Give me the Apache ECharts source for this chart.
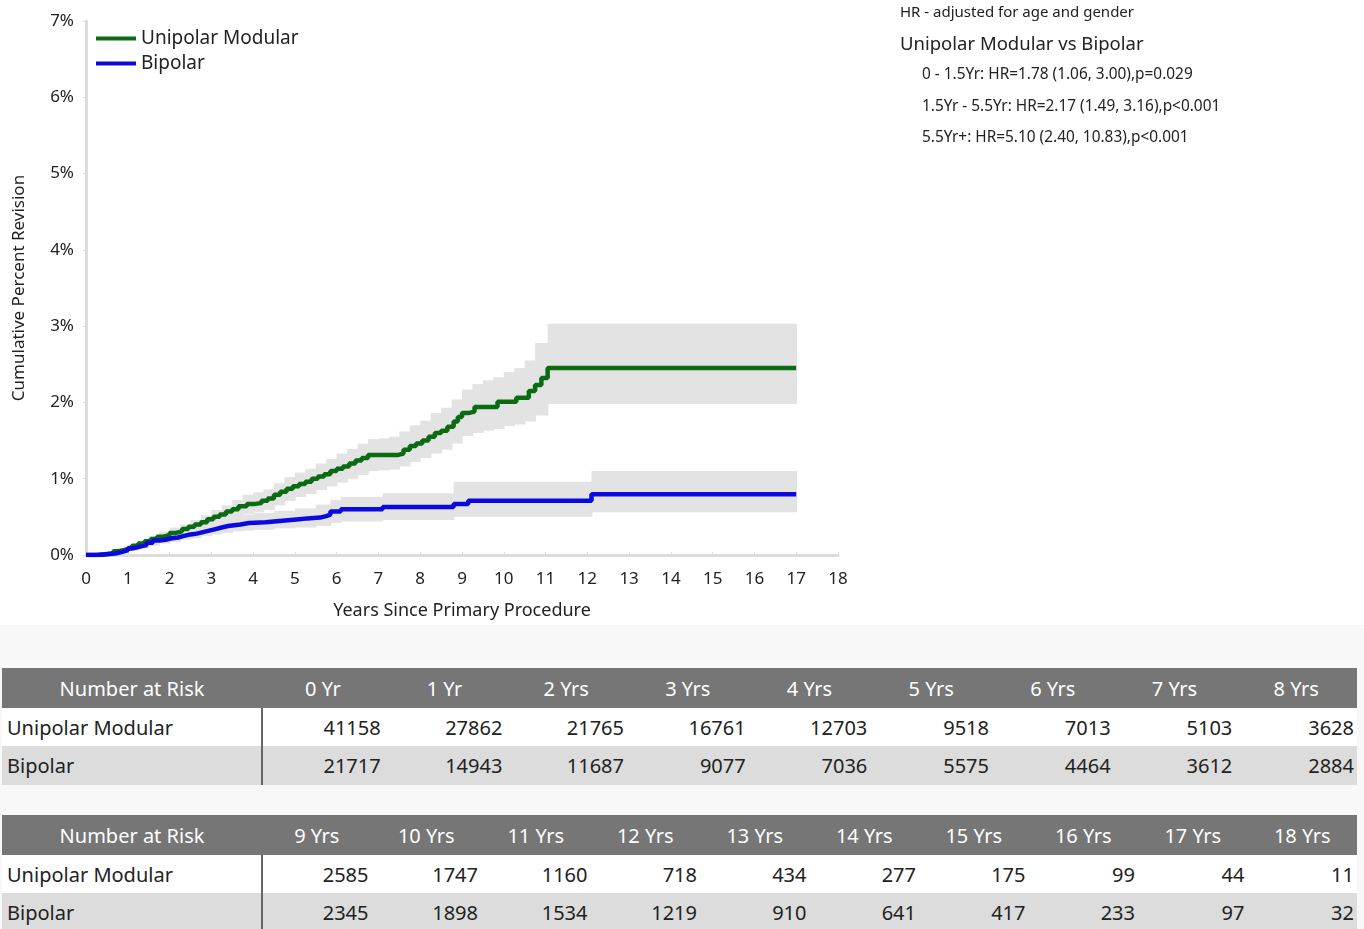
<!DOCTYPE html>
<html lang="en">
<head>
  <meta charset="utf-8">
  <style>
    body { margin: 0; width: 1364px; height: 929px; background: #fff; overflow: hidden; position: relative;
           font-family: 'Noto Sans', 'Open Sans', sans-serif; }
    #container { position: absolute; left: 0; top: 0; width: 1364px; height: 625px; }
    #tables { position: absolute; left: 0; top: 625px; width: 1364px; height: 304px; background: #f8f8f8; }
    table.risk { position: absolute; left: 2px; width: 1355px; border-collapse: collapse; table-layout: fixed;
                 font-size: 20px; color: #222; }
    table.risk th { background: #767676; color: #fff; font-weight: normal; height: 40px; padding: 0; text-align: center; }
    table.risk td { height: 38px; padding: 0 3px 0 0; text-align: right; white-space: nowrap; }
    table.risk td.name { text-align: left; padding-left: 5px; border-right: 2px solid #666; }
    table.risk tr.r1 td { background: #fff; }
    table.risk tr.r2 td { background: #dcdcdc; height: 39px; }
  </style>
</head>
<body>
  <div id="container"></div>
  <div id="tables"></div>

  <script type="text/javascript" src="https://cdn.jsdelivr.net/npm/echarts@6/dist/echarts.min.js"></script>
  <script type="text/javascript">
    // cumulative percent revision (step curves: value holds until the next time)
    var umTime = [0, 0.25, 0.45, 0.65, 0.8, 0.95, 1.1, 1.25, 1.4, 1.55, 1.7, 1.85, 2.0, 2.15, 2.3, 2.45, 2.6, 2.75, 2.9,
                  3.05, 3.2, 3.35, 3.5, 3.65, 3.85, 4.05, 4.2, 4.35, 4.5, 4.65, 4.8, 4.95, 5.1, 5.25, 5.4, 5.55, 5.7,
                  5.85, 6.0, 6.15, 6.3, 6.45, 6.6, 6.75, 7.45, 7.6, 7.75, 7.9, 8.05, 8.2, 8.35, 8.5, 8.65, 8.8, 8.9,
                  9.0, 9.15, 9.3, 9.85, 10.3, 10.6, 10.75, 10.9, 11.05, 17];
    var umValue = [0, 0.01, 0.02, 0.05, 0.07, 0.09, 0.12, 0.15, 0.18, 0.21, 0.24, 0.26, 0.29, 0.31, 0.34, 0.37, 0.4, 0.43, 0.47,
                   0.5, 0.53, 0.57, 0.6, 0.64, 0.67, 0.68, 0.71, 0.74, 0.79, 0.83, 0.87, 0.9, 0.93, 0.96, 1.0, 1.03, 1.06,
                   1.1, 1.13, 1.16, 1.2, 1.24, 1.27, 1.31, 1.33, 1.38, 1.43, 1.46, 1.5, 1.55, 1.6, 1.63, 1.68, 1.75, 1.81,
                   1.86, 1.88, 1.94, 2.01, 2.06, 2.15, 2.23, 2.32, 2.45, 2.45];

    var umBandTime = [0, 0.25, 0.5, 0.75, 1, 1.25, 1.5, 1.75, 2, 2.25, 2.5, 2.75, 3, 3.25, 3.5, 3.75, 4, 4.25, 4.5, 4.75,
                      5, 5.25, 5.5, 5.75, 6, 6.25, 6.5, 6.75, 7, 7.25, 7.5, 7.75, 8, 8.25, 8.5, 8.75, 9, 9.25, 9.5, 9.75,
                      10, 10.25, 10.5, 10.75, 11.05, 17];
    var umLower = [0, 0, 0.02, 0.04, 0.07, 0.11, 0.15, 0.19, 0.23, 0.27, 0.31, 0.35, 0.4, 0.44, 0.49, 0.54, 0.56, 0.59, 0.65, 0.71,
                   0.76, 0.8, 0.85, 0.9, 0.95, 1.0, 1.05, 1.1, 1.11, 1.12, 1.16, 1.22, 1.27, 1.33, 1.38, 1.46, 1.56, 1.6, 1.63, 1.65,
                   1.69, 1.71, 1.75, 1.83, 1.98, 1.98];
    var umUpper = [0, 0.03, 0.05, 0.09, 0.13, 0.19, 0.25, 0.31, 0.36, 0.4, 0.46, 0.52, 0.59, 0.65, 0.72, 0.79, 0.82, 0.86, 0.94, 1.02,
                   1.08, 1.13, 1.2, 1.26, 1.33, 1.39, 1.46, 1.52, 1.53, 1.55, 1.62, 1.7, 1.76, 1.86, 1.93, 2.04, 2.17, 2.24, 2.29, 2.33,
                   2.4, 2.45, 2.55, 2.78, 3.03, 3.03];

    var biTime = [0, 0.3, 0.5, 0.7, 0.85, 1.0, 1.15, 1.3, 1.45, 1.6, 1.75, 1.9, 2.05, 2.2, 2.35, 2.5, 2.65, 2.8, 2.95,
                  3.1, 3.25, 3.4, 3.55, 3.7, 3.9, 4.3, 4.5, 4.7, 4.9, 5.1, 5.3, 5.6, 5.75, 5.85, 6.1, 7.1, 8.8, 9.15, 12.1, 17];
    var biValue = [0, 0.01, 0.02, 0.04, 0.06, 0.09, 0.11, 0.13, 0.16, 0.19, 0.2, 0.22, 0.23, 0.25, 0.27, 0.28, 0.3, 0.32, 0.34,
                   0.36, 0.38, 0.39, 0.4, 0.42, 0.43, 0.44, 0.45, 0.46, 0.47, 0.48, 0.49, 0.51, 0.53, 0.57, 0.6, 0.63, 0.67, 0.71, 0.795, 0.795];

    var biBandTime = [0, 0.25, 0.5, 0.75, 1, 1.25, 1.5, 1.75, 2, 2.25, 2.5, 2.75, 3, 3.25, 3.5, 3.75, 4, 4.5, 5, 5.5,
                      5.85, 6.1, 7.1, 8.8, 12.1, 17];
    var biLower = [0, 0, 0.02, 0.04, 0.06, 0.09, 0.12, 0.15, 0.17, 0.2, 0.22, 0.25, 0.27, 0.29, 0.31, 0.32, 0.33, 0.35, 0.36, 0.38,
                   0.42, 0.44, 0.46, 0.5, 0.56, 0.56];
    var biUpper = [0, 0.03, 0.05, 0.09, 0.14, 0.18, 0.23, 0.27, 0.3, 0.34, 0.37, 0.41, 0.44, 0.47, 0.5, 0.53, 0.55, 0.58, 0.61, 0.66,
                   0.72, 0.76, 0.81, 0.96, 1.1, 1.1];

    var seriesNames = ['Unipolar Modular', 'Bipolar'];
    var notes = ['HR - adjusted for age and gender', 'Unipolar Modular vs Bipolar',
                 '0 - 1.5Yr: HR=1.78 (1.06, 3.00),p=0.029',
                 '1.5Yr - 5.5Yr: HR=2.17 (1.49, 3.16),p<0.001',
                 '5.5Yr+: HR=5.10 (2.40, 10.83),p<0.001'];

    // number at risk tables
    var riskYears1 = ['0 Yr', '1 Yr', '2 Yrs', '3 Yrs', '4 Yrs', '5 Yrs', '6 Yrs', '7 Yrs', '8 Yrs'];
    var riskUm1 = [41158, 27862, 21765, 16761, 12703, 9518, 7013, 5103, 3628];
    var riskBi1 = [21717, 14943, 11687, 9077, 7036, 5575, 4464, 3612, 2884];
    var riskYears2 = ['9 Yrs', '10 Yrs', '11 Yrs', '12 Yrs', '13 Yrs', '14 Yrs', '15 Yrs', '16 Yrs', '17 Yrs', '18 Yrs'];
    var riskUm2 = [2585, 1747, 1160, 718, 434, 277, 175, 99, 44, 11];
    var riskBi2 = [2345, 1898, 1534, 1219, 910, 641, 417, 233, 97, 32];

    function pairs(t, v) {
      return t.map(function (x, i) { return [x, v[i]]; });
    }

    // confidence band drawn as one rect per step
    function bandSeries(t, lo, hi) {
      var data = [];
      for (var i = 0; i < t.length - 1; i++) {
        data.push([t[i], t[i + 1], lo[i], hi[i]]);
      }
      return {
        type: 'custom',
        silent: true,
        z: 1,
        encode: { x: [0, 1], y: [2, 3] },
        renderItem: function (params, api) {
          var a = api.coord([api.value(0), api.value(3)]);
          var b = api.coord([api.value(1), api.value(2)]);
          return {
            type: 'rect',
            shape: { x: a[0], y: a[1], width: b[0] - a[0] + 0.8, height: b[1] - a[1] },
            style: { fill: '#e3e3e3' }
          };
        },
        data: data
      };
    }

    var dom = document.getElementById('container');
    var myChart = echarts.init(dom, null, { renderer: 'canvas' });
    var font = "'Noto Sans', 'Open Sans', sans-serif";

    var graphics = [
      { type: 'text', left: 900, top: 5, style: { text: notes[0], font: '15px ' + font, fill: '#222' } },
      { type: 'text', left: 900, top: 35, style: { text: notes[1], font: '18.5px ' + font, fill: '#222' } },
      { type: 'text', left: 922, top: 67, style: { text: notes[2], font: '15.4px ' + font, fill: '#222' } },
      { type: 'text', left: 922, top: 99, style: { text: notes[3], font: '15.4px ' + font, fill: '#222' } },
      { type: 'text', left: 922, top: 130, style: { text: notes[4], font: '15.4px ' + font, fill: '#222' } }
    ];

    var option = {
      animation: false,
      textStyle: { fontFamily: font },
      grid: { left: 86, top: 21, width: 752, height: 534 },
      legend: {
        data: seriesNames,
        orient: 'vertical',
        left: 91,
        top: 24,
        icon: 'rect',
        itemWidth: 40,
        itemHeight: 4,
        itemGap: 6,
        textStyle: { fontSize: 19, color: '#222', lineHeight: 19 }
      },
      graphic: graphics,
      xAxis: {
        type: 'value',
        min: 0,
        max: 18,
        interval: 1,
        name: 'Years Since Primary Procedure',
        nameLocation: 'middle',
        nameGap: 47,
        nameTextStyle: { fontSize: 18, color: '#222' },
        axisLine: { lineStyle: { color: '#dcdcdc', width: 3 } },
        axisTick: { show: true, inside: true, length: 3, lineStyle: { color: '#dcdcdc' } },
        axisLabel: { fontSize: 17, color: '#222', margin: 16 },
        splitLine: { show: false }
      },
      yAxis: {
        type: 'value',
        min: 0,
        max: 7,
        interval: 1,
        name: 'Cumulative Percent Revision',
        nameLocation: 'middle',
        nameGap: 58,
        nameTextStyle: { fontSize: 17, color: '#222' },
        axisLine: { show: true, lineStyle: { color: '#dcdcdc', width: 3 } },
        axisTick: { show: true, length: 3, lineStyle: { color: '#dcdcdc' } },
        axisLabel: { fontSize: 17, color: '#222', margin: 12, formatter: '{value}%' },
        splitLine: { show: false }
      },
      series: [
        bandSeries(umBandTime, umLower, umUpper),
        bandSeries(biBandTime, biLower, biUpper),
        {
          name: seriesNames[0],
          type: 'line',
          step: 'end',
          z: 3,
          showSymbol: false,
          color: '#0b6b12',
          lineStyle: { width: 4.5, color: '#0b6b12' },
          data: pairs(umTime, umValue)
        },
        {
          name: seriesNames[1],
          type: 'line',
          step: 'end',
          z: 4,
          showSymbol: false,
          color: '#0a0ae0',
          lineStyle: { width: 4.5, color: '#0a0ae0' },
          data: pairs(biTime, biValue)
        }
      ]
    };

    myChart.setOption(option);

    // number at risk tables
    function buildTable(top, years, um, bi) {
      var colW = (1355 - 260) / years.length;
      var html = '<table class="risk" style="top:' + top + 'px"><colgroup><col style="width:260px">';
      years.forEach(function () { html += '<col style="width:' + colW + 'px">'; });
      html += '</colgroup><tr><th>Number at Risk</th>';
      years.forEach(function (y) { html += '<th>' + y + '</th>'; });
      html += '</tr><tr class="r1"><td class="name">' + seriesNames[0] + '</td>';
      um.forEach(function (v) { html += '<td>' + v + '</td>'; });
      html += '</tr><tr class="r2"><td class="name">' + seriesNames[1] + '</td>';
      bi.forEach(function (v) { html += '<td>' + v + '</td>'; });
      html += '</tr></table>';
      return html;
    }

    document.getElementById('tables').innerHTML =
      buildTable(43, riskYears1, riskUm1, riskBi1) +
      buildTable(190, riskYears2, riskUm2, riskBi2);
  </script>
</body>
</html>
